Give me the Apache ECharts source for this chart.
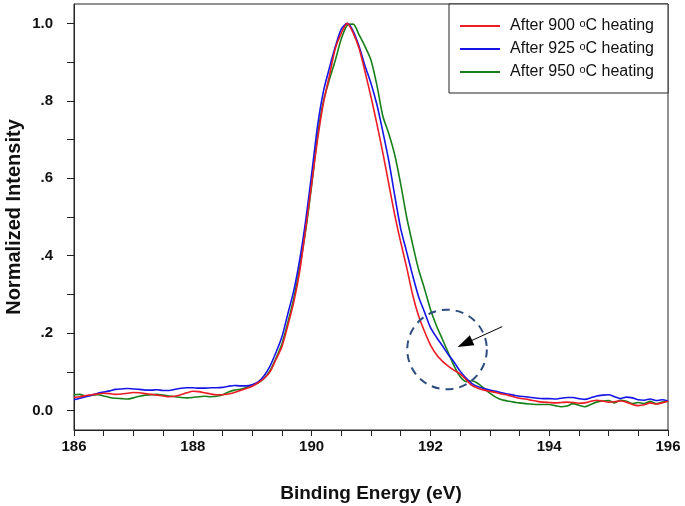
<!DOCTYPE html>
<html>
<head>
<meta charset="utf-8">
<script src="https://cdn.jsdelivr.net/npm/echarts@6/dist/echarts.min.js"></script>
<style>
html,body{margin:0;padding:0;background:#fff;}
#xpsChart{width:685px;height:506px;}
</style>
</head>
<body>
<div id="xpsChart"></div>
<script>
// binding energy grid (eV)
var energy = [
	186.0,186.1,186.2,186.3,186.4,186.5,186.6,186.7,186.8,186.9,
	187.0,187.1,187.2,187.3,187.4,187.5,187.6,187.7,187.8,187.9,
	188.0,188.1,188.2,188.3,188.4,188.5,188.6,188.7,188.8,188.9,
	189.0,189.1,189.2,189.3,189.4,189.5,189.6,189.7,189.8,189.9,
	190.0,190.1,190.2,190.3,190.4,190.5,190.6,190.7,190.8,190.9,
	191.0,191.1,191.2,191.3,191.4,191.5,191.6,191.7,191.8,191.9,
	192.0,192.1,192.2,192.3,192.4,192.5,192.6,192.7,192.8,192.9,
	193.0,193.1,193.2,193.3,193.4,193.5,193.6,193.7,193.8,193.9,
	194.0,194.1,194.2,194.3,194.4,194.5,194.6,194.7,194.8,194.9,
	195.0,195.1,195.2,195.3,195.4,195.5,195.6,195.7,195.8,195.9,
	196.0
];
var heat900 = [
	0.034,0.036,0.039,0.041,0.043,0.045,0.044,0.042,0.043,0.045,
	0.047,0.046,0.044,0.042,0.040,0.038,0.036,0.037,0.041,0.046,
	0.050,0.049,0.046,0.043,0.041,0.041,0.043,0.047,0.052,0.057,
	0.063,0.072,0.083,0.100,0.132,0.165,0.220,0.280,0.360,0.470,
	0.585,0.700,0.795,0.865,0.935,0.975,1.000,0.975,0.935,0.875,
	0.810,0.740,0.665,0.585,0.505,0.435,0.370,0.300,0.245,0.205,
	0.170,0.145,0.128,0.115,0.104,0.095,0.080,0.065,0.058,0.053,
	0.050,0.047,0.043,0.040,0.036,0.032,0.030,0.027,0.024,0.022,
	0.021,0.020,0.021,0.022,0.021,0.019,0.020,0.024,0.027,0.025,
	0.022,0.023,0.025,0.022,0.016,0.013,0.015,0.020,0.017,0.020,
	0.024
];
var heat925 = [
	0.028,0.032,0.036,0.040,0.045,0.048,0.051,0.055,0.056,0.057,
	0.056,0.055,0.053,0.053,0.054,0.052,0.052,0.055,0.058,0.059,
	0.059,0.058,0.058,0.059,0.059,0.060,0.063,0.065,0.064,0.064,
	0.067,0.074,0.090,0.115,0.150,0.190,0.250,0.310,0.390,0.490,
	0.610,0.735,0.825,0.885,0.940,0.985,1.000,0.980,0.940,0.890,
	0.845,0.790,0.720,0.645,0.555,0.470,0.410,0.350,0.295,0.255,
	0.215,0.190,0.168,0.145,0.125,0.102,0.084,0.070,0.062,0.057,
	0.053,0.050,0.046,0.043,0.040,0.037,0.036,0.034,0.032,0.031,
	0.031,0.030,0.032,0.034,0.034,0.031,0.029,0.033,0.038,0.040,
	0.041,0.036,0.031,0.035,0.033,0.028,0.027,0.030,0.026,0.028,
	0.025
];
var heat950 = [
	0.041,0.042,0.038,0.040,0.041,0.038,0.034,0.032,0.031,0.030,
	0.033,0.037,0.040,0.041,0.042,0.040,0.038,0.036,0.034,0.033,
	0.034,0.036,0.037,0.036,0.037,0.041,0.048,0.053,0.055,0.060,
	0.066,0.072,0.083,0.103,0.135,0.172,0.228,0.290,0.370,0.465,
	0.580,0.710,0.800,0.855,0.905,0.960,0.995,0.998,0.970,0.940,
	0.905,0.840,0.760,0.715,0.660,0.585,0.500,0.430,0.365,0.315,
	0.262,0.220,0.185,0.150,0.115,0.088,0.075,0.077,0.070,0.058,
	0.045,0.035,0.028,0.025,0.022,0.020,0.018,0.017,0.016,0.016,
	0.016,0.013,0.010,0.012,0.018,0.014,0.010,0.016,0.022,0.025,
	0.026,0.020,0.027,0.024,0.018,0.021,0.018,0.024,0.018,0.022,
	0.025
];
var seriesNames = ['After 900 °C heating', 'After 925 °C heating', 'After 950 °C heating'];
var seriesColors = ['#ec1c24', '#1515e8', '#17801a'];
var yTickValues = [0, 0.1, 0.2, 0.3, 0.4, 0.5, 0.6, 0.7, 0.8, 0.9, 1.0];
var yLabelValues = [0, 0.2, 0.4, 0.6, 0.8, 1.0];
// annotation in data units: circle centre/radius(eV), arrow tail -> tip
var circleMark = [192.28, 0.158, 0.67];
var arrowMark = [[193.21, 0.217], [192.58, 0.173]];

var FONT = 'Arial, "Liberation Sans", sans-serif';
var xpsChart;

$ready(function(){
	initChart();
	drawAnnotation();
});
function $ready(fn){
	if (document.readyState !== 'loading') fn();
	else document.addEventListener('DOMContentLoaded', fn);
}
function toPairs(values){
	return energy.map(function(e, i){ return [e, values[i]]; });
}
function yLabel(v){
	if (Math.abs(v) < 1e-9) return '0.0';
	if (Math.abs(v - 1) < 1e-9) return '1.0';
	return '.' + Math.round(v * 10);
}
function buildSeries(){
	var data = [heat900, heat925, heat950];
	return data.map(function(vals, i){
		var s = {
			name: seriesNames[i],
			type: 'line',
			data: toPairs(vals),
			symbol: 'none',
			smooth: 0.25,
			lineStyle: {color: seriesColors[i], width: 1.6},
			itemStyle: {color: seriesColors[i]},
			animation: false,
			z: 3 - i
		};
		if (i === 0) {
			s.markLine = {
				silent: true,
				symbol: ['none', 'triangle'],
				symbolSize: [11, 16],
				label: {show: false},
				lineStyle: {color: '#000', width: 1, type: 'solid'},
				data: [[{coord: arrowMark[0]}, {coord: arrowMark[1]}]],
				animation: false
			};
		}
		return s;
	});
}
function initChart(){
	xpsChart = echarts.init(document.getElementById('xpsChart'));
	var option = {
		backgroundColor: '#fff',
		animation: false,
		grid: {
			left: 74, right: 17, top: 4, bottom: 76,
			outerBoundsMode: 'none',
			show: true, borderColor: '#222', borderWidth: 1
		},
		legend: {
			orient: 'vertical',
			right: 17, top: 4,
			padding: [14, 14, 11, 11],
			itemGap: 5,
			itemWidth: 40, itemHeight: 2,
			borderColor: '#222', borderWidth: 1,
			backgroundColor: '#fff',
			data: seriesNames.map(function(n, i){
				return {name: n, icon: 'rect', itemStyle: {color: seriesColors[i]}};
			}),
			formatter: function(name){
				return name.replace(' °C', ' {sup|o}C');
			},
			textStyle: {
				fontFamily: FONT, fontSize: 16, color: '#111',
				padding: [0, 0, 0, 5],
				rich: {
					sup: {fontFamily: FONT, fontSize: 11, verticalAlign: 'top', lineHeight: 16, padding: [0, 0, 7, 0], color: '#111'}
				}
			}
		},
		xAxis: {
			type: 'value',
			min: 186, max: 196, interval: 0.5,
			name: 'Binding Energy (eV)',
			nameLocation: 'middle',
			nameGap: 54,
			nameMoveOverlap: false,
			nameTextStyle: {fontFamily: FONT, fontSize: 19, fontWeight: 'bold', color: '#111'},
			axisLine: {onZero: false, lineStyle: {color: '#222', width: 1}},
			axisTick: {show: true, inside: false, length: 6, lineStyle: {color: '#222'}},
			splitLine: {show: false},
			axisLabel: {
				margin: 9,
				fontFamily: FONT, fontSize: 15, fontWeight: 'bold', color: '#111',
				formatter: function(v){ return (Math.abs(v % 2) < 1e-9) ? String(v) : ''; }
			}
		},
		yAxis: {
			type: 'value',
			min: -0.05, max: 1.05,
			name: 'Normalized Intensity',
			nameLocation: 'middle',
			nameGap: 50,
			nameMoveOverlap: false,
			nameTextStyle: {fontFamily: FONT, fontSize: 20, fontWeight: 'bold', color: '#111'},
			axisLine: {show: true, onZero: false, lineStyle: {color: '#222', width: 1}},
			axisTick: {show: true, inside: false, length: 7, customValues: yTickValues, lineStyle: {color: '#222'}},
			splitLine: {show: false},
			axisLabel: {
				margin: 21,
				customValues: yLabelValues,
				fontFamily: FONT, fontSize: 15, fontWeight: 'bold', color: '#111',
				formatter: yLabel
			}
		},
		series: buildSeries()
	};
	xpsChart.setOption(option);
}
//dashed circle around the shoulder
function drawAnnotation(){
	var c = xpsChart.convertToPixel({gridIndex: 0}, [circleMark[0], circleMark[1]]);
	var edge = xpsChart.convertToPixel({gridIndex: 0}, [circleMark[0] + circleMark[2], circleMark[1]]);
	var r = edge[0] - c[0];
	xpsChart.setOption({
		graphic: [{
			type: 'circle',
			shape: {cx: c[0], cy: c[1], r: r},
			style: {fill: 'none', stroke: '#2e4d7e', lineWidth: 2, lineDash: [8, 6]},
			silent: true,
			z: 10
		}]
	});
}
</script>
</body>
</html>
